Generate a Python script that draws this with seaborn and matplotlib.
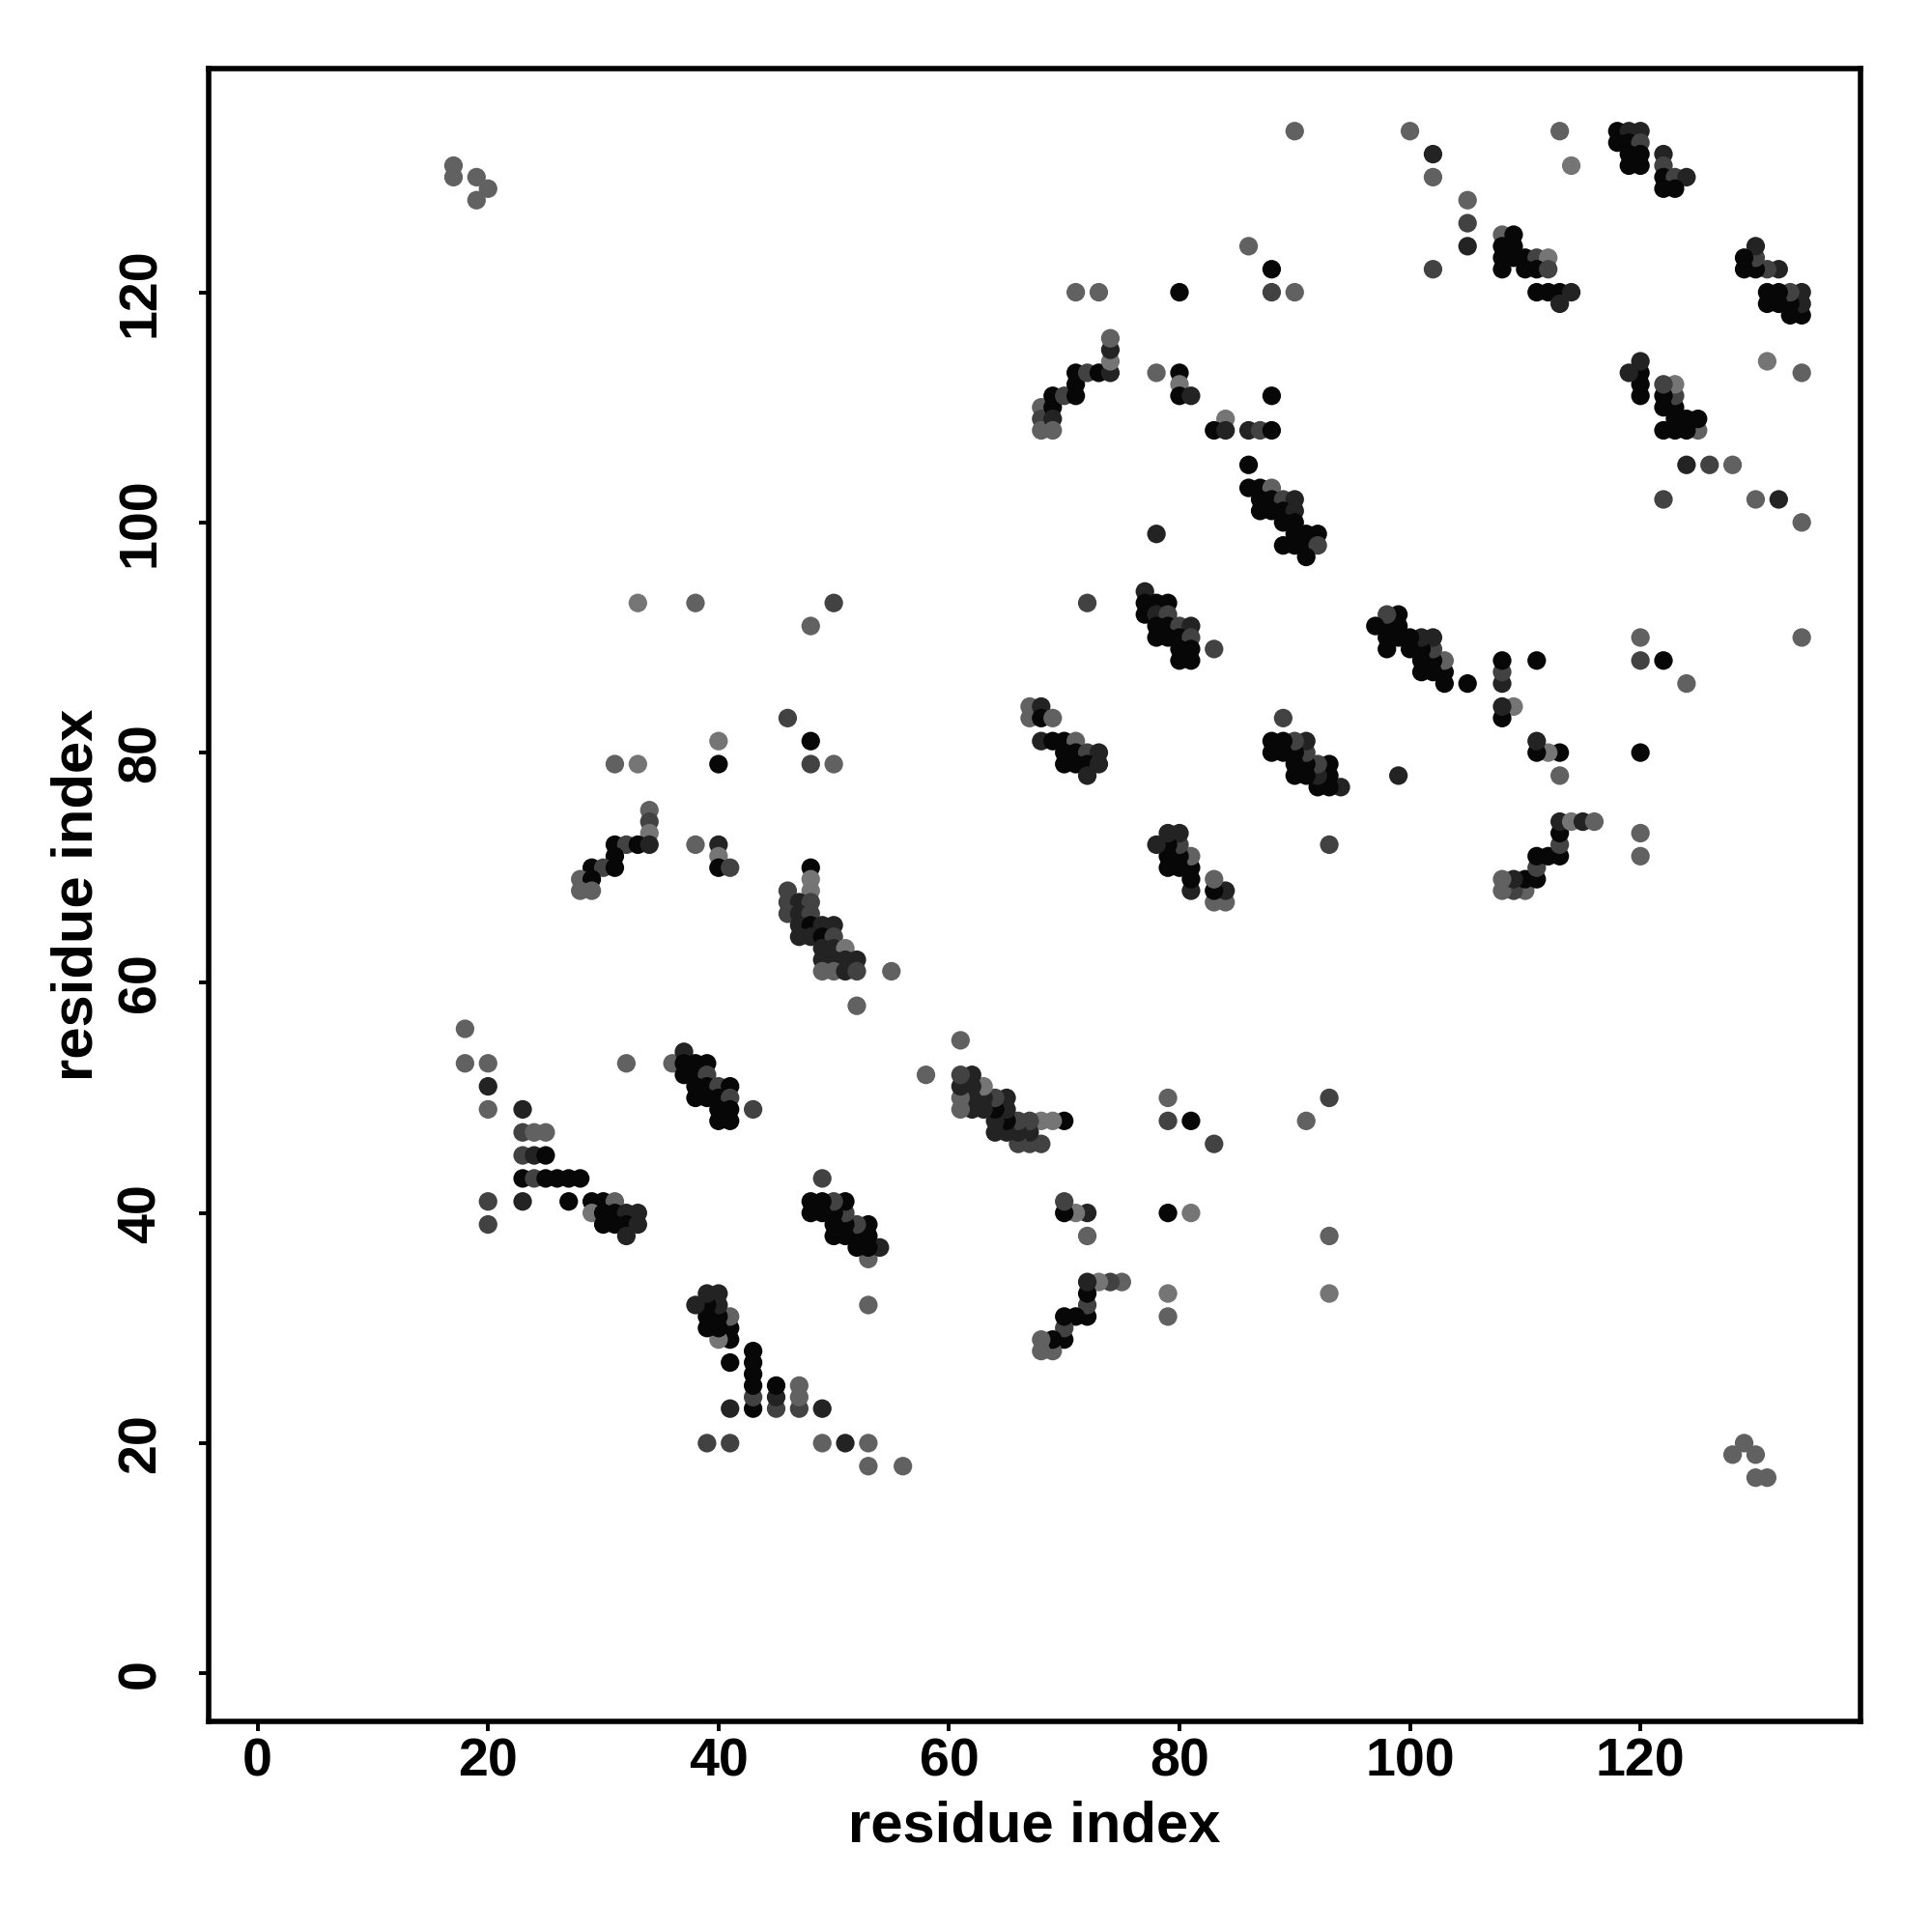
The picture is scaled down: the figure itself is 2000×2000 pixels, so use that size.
import matplotlib
matplotlib.use("Agg")
import matplotlib.pyplot as plt
import seaborn as sns
import pandas as pd

# contact map is symmetric: only the upper triangle (res_j > res_i) is listed
res_i = [
    17, 17, 19, 20, 19,
    18, 18, 20, 20, 20, 23,
    23, 24, 25, 23, 24, 25,
    23, 24, 25, 26, 27, 28,
    20, 23, 27, 29, 30, 31,
    20, 29, 30, 31, 32, 33,
    30, 31, 32, 33, 32,
    34, 34, 34, 31, 32, 33, 34,
    31, 29, 30, 31, 28, 29, 28, 29,
    33, 38, 31, 33, 40, 40, 48, 48, 50,
    46, 48, 50, 38, 40, 40, 40, 41,
    32, 36, 37, 37, 38, 39, 37, 38, 39,
    38, 39, 40, 41, 38, 39, 40, 41,
    40, 41, 43, 40, 41,
    48, 48, 46, 48, 46, 47, 48,
    46, 47, 48, 47, 48, 49, 50,
    47, 48, 49, 50, 49, 50, 51,
    49, 50, 51, 52, 49, 50, 51, 52, 55, 52,
    68, 68, 68, 69, 69, 69, 69, 70,
    71, 71, 71, 72, 73, 74, 74, 74, 74, 71, 73,
    80, 88, 90, 88, 86, 90, 78, 80, 80,
    80, 81, 88, 84, 83, 84, 86, 87, 88,
    100, 113, 102, 102, 114, 105, 105, 105, 102,
    118, 119, 120, 118, 119, 120, 119, 120, 119, 120,
    122, 122, 122, 123, 124, 122, 123,
    108, 109, 108, 109, 108, 109, 110, 111, 112,
    108, 110, 111, 112, 111, 112, 113, 114, 113,
    77, 77, 78, 79, 77, 78, 79, 78, 79, 80, 81,
    78, 79, 80, 81, 80, 81, 83, 80, 81, 78, 72,
    86, 86, 87, 88, 87, 88, 89, 90,
    87, 88, 89, 90, 89, 90, 90, 91, 92,
    89, 90, 91, 92, 91,
    67, 67, 68, 68, 69, 68, 69, 70, 71,
    70, 71, 72, 73, 70, 71, 72, 73, 72,
]
res_j = [
    131, 130, 130, 129, 128,
    56, 53, 53, 51, 49, 49,
    47, 47, 47, 45, 45, 45,
    43, 43, 43, 43, 43, 43,
    41, 41, 41, 41, 41, 41,
    39, 40, 40, 40, 40, 40,
    39, 39, 39, 39, 38,
    75, 74, 73, 72, 72, 72, 72,
    71, 70, 70, 70, 69, 69, 68, 68,
    93, 93, 79, 79, 79, 81, 81, 79, 79,
    83, 91, 93, 72, 72, 71, 70, 70,
    53, 53, 54, 53, 53, 53, 52, 52, 52,
    51, 51, 51, 51, 50, 50, 50, 50,
    49, 49, 49, 48, 48,
    70, 69, 68, 68, 67, 67, 67,
    66, 66, 66, 65, 65, 65, 65,
    64, 64, 64, 64, 63, 63, 63,
    62, 62, 62, 62, 61, 61, 61, 61, 61, 58,
    110, 109, 108, 111, 110, 109, 108, 111,
    113, 112, 111, 113, 113, 113, 114, 115, 116, 120, 120,
    120, 120, 120, 122, 124, 134, 113, 113, 112,
    111, 111, 111, 109, 108, 108, 108, 108, 108,
    134, 134, 132, 130, 131, 128, 126, 124, 122,
    134, 134, 134, 133, 133, 133, 132, 132, 131, 131,
    132, 131, 130, 130, 130, 129, 129,
    125, 125, 124, 124, 123, 123, 123, 123, 123,
    122, 122, 122, 122, 120, 120, 120, 120, 119,
    94, 93, 93, 93, 92, 92, 92, 91, 91, 91, 91,
    90, 90, 90, 90, 89, 89, 89, 88, 88, 99, 93,
    105, 103, 103, 103, 102, 102, 102, 102,
    101, 101, 101, 101, 100, 100, 99, 99, 99,
    98, 98, 98, 98, 97,
    84, 83, 84, 83, 83, 81, 81, 81, 81,
    80, 80, 80, 80, 79, 79, 79, 79, 78,
]
# contact strength: K strongest ... L weakest
strength = "".join([
    "GGGGG",
    "GGGDGD",
    "MGGMDK",
    "KMKKKK",
    "MDKKKG",
    "MLKKDD",
    "KKKDD",
    "GMLKMKD",
    "KKMKGKGG",
    "LGGLKLKMG",
    "MGMGDLKM",
    "GGDKKKKKM",
    "KKMKKKKM",
    "KKMKK",
    "KLMLMDM",
    "MDMDKDD",
    "DDKMDDL",
    "DDDDGGDMGG",
    "GMGKKDGM",
    "KKKMKDLDGGG",
    "KMGKGGGKL",
    "KDKLKDDMK",
    "GGDGLGMDM",
    "KDDKKMKKKK",
    "DMKMDKK",
    "GKKKKKKML",
    "KKKMKKKDD",
    "DKKKKDMKKMD",
    "KKKMKKMKKDM",
    "KKKGKKMD",
    "KKKDKKKKK",
    "KKKMK",
    "GGDKGDKKG",
    "KKMDKKKDD",
])

gray_of = {"K": 0.03, "D": 0.14, "M": 0.26, "G": 0.38, "L": 0.46}

df = pd.DataFrame({
    "x": res_i + res_j,
    "y": res_j + res_i,
    "g": [gray_of[c] for c in strength + strength],
})

sns.set_style("white")
plt.rcParams["font.family"] = ["Liberation Sans", "DejaVu Sans"]
plt.rcParams["font.weight"] = "bold"
plt.rcParams["axes.labelweight"] = "bold"
plt.rcParams["text.color"] = "black"
plt.rcParams["axes.labelcolor"] = "black"

fig = plt.figure(figsize=(10, 10), dpi=200)
ax = fig.add_axes([0.1078, 0.109, 0.8552, 0.8553])
sns.scatterplot(data=df, x="x", y="y", hue="g", palette=plt.get_cmap("gray"),
                hue_norm=(0, 1), s=48, linewidth=0, legend=False, ax=ax)

ax.set_xlim(-4.28, 139.1)
ax.set_ylim(-4.18, 139.4)
ax.set_xticks(range(0, 121, 20))
ax.set_yticks(range(0, 121, 20))
for sp in ax.spines.values():
    sp.set_visible(True)
    sp.set_color("black")
    sp.set_linewidth(2.0)

ax.tick_params(axis="both", direction="out", length=3.6, width=1.4, colors="black",
               labelsize=20, bottom=True, left=True)
ax.tick_params(axis="x", pad=2.5)
ax.tick_params(axis="y", labelrotation=90, pad=12)
for lbl in ax.get_yticklabels():
    lbl.set_va("center")

ax.set_xlabel("residue index", fontsize=21.5, fontweight="bold", color="black")
ax.set_ylabel("residue index", fontsize=21.5, fontweight="bold", color="black")
ax.xaxis.label.set_va("center")
ax.yaxis.label.set_va("center")
ax.xaxis.set_label_coords(0.5, -0.064)
ax.yaxis.set_label_coords(-0.079, 0.5)

fig.savefig("out.png", dpi=200)
